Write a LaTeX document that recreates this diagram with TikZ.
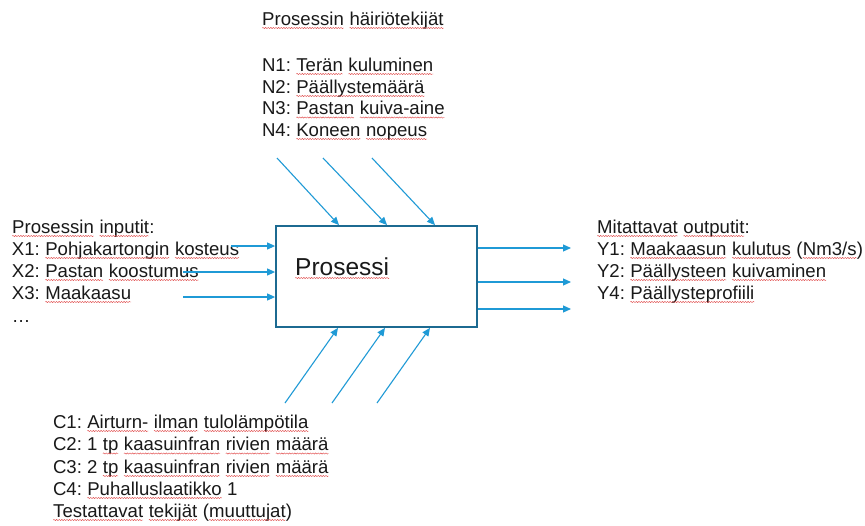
\documentclass[tikz,border=0pt]{standalone}
\usepackage{fontspec}
\setmainfont{Liberation Sans}
\frenchspacing
\usetikzlibrary{arrows.meta,decorations.pathmorphing}
\definecolor{arrblue}{RGB}{31,154,214}
\definecolor{boxblue}{RGB}{28,106,145}
\definecolor{sqred}{RGB}{226,80,80}
\tikzset{
  sqline/.style={sqred, line width=0.45pt, decorate, decoration={snake, amplitude=0.6pt, segment length=2.6pt}},
  txt/.style={anchor=base west, inner sep=0pt, outer sep=0pt, font=\fontsize{18.6}{22}\selectfont, text=black!90},
  arr/.style={arrblue, line width=1.1pt, -{Triangle[length=8pt,width=7pt]}},
  procbox/.style={draw=boxblue, line width=1.8pt, minimum width=201pt, minimum height=101pt, inner sep=0pt}
}
\newcommand\sq[1]{\tikz[baseline=(sqw.base)]{\node[inner sep=0pt,outer sep=0pt,anchor=base] (sqw) at (0,0) {#1};\draw[sqline] ([yshift=-3pt]sqw.base west) -- ([yshift=-3pt]sqw.base east);}}
\begin{document}
\begin{tikzpicture}[x=1pt,y=-1pt]
\useasboundingbox (0,0) rectangle (865,525);
\fill[white] (0,0) rectangle (865,525);
% process box
\node[procbox] (proc) at (376.5,276.5) {};
\node[txt, font=\fontsize{24.5}{28}\selectfont] (proctext) at (295,275) {\sq{Prosessi}};
% top text
\node[txt] (ntitle) at (262,25) {\sq{Prosessin} \sq{häiriötekijät}};
\node[txt] (n1) at (262,71) {N1: \sq{Terän} \sq{kuluminen}};
\node[txt] (n2) at (262,93) {N2: \sq{Päällystemäärä}};
\node[txt] (n3) at (262,114.5) {N3: \sq{Pastan} \sq{kuiva-aine}};
\node[txt] (n4) at (262,136) {N4: \sq{Koneen} \sq{nopeus}};
% left text
\node[txt] (xtitle) at (12,233) {\sq{Prosessin} \sq{inputit}:};
\node[txt] (x1) at (12,255) {X1: \sq{Pohjakartongin} \sq{kosteus}};
\node[txt] (x2) at (12,277) {X2: \sq{Pastan} \sq{koostumus}};
\node[txt] (x3) at (12,299) {X3: \sq{Maakaasu}};
\node[txt] (xdots) at (12,322) {…};
% right text
\node[txt] (ytitle) at (597,233) {\sq{Mitattavat} \sq{outputit}:};
\node[txt] (y1) at (597,255) {Y1: \sq{Maakaasun} \sq{kulutus} (\sq{Nm3/s})};
\node[txt] (y2) at (597,277) {Y2: \sq{Päällysteen} \sq{kuivaminen}};
\node[txt] (y4) at (597,299) {Y4: \sq{Päällysteprofiili}};
% bottom text
\node[txt] (c1) at (53,428) {C1: \sq{Airturn-} \sq{ilman} \sq{tulolämpötila}};
\node[txt] (c2) at (53,450.5) {C2: 1 \sq{tp} \sq{kaasuinfran} \sq{rivien} \sq{määrä}};
\node[txt] (c3) at (53,473) {C3: 2 \sq{tp} \sq{kaasuinfran} \sq{rivien} \sq{määrä}};
\node[txt] (c4) at (53,495) {C4: \sq{Puhalluslaatikko} 1};
\node[txt] (ctitle) at (53,517) {\sq{Testattavat} \sq{tekijät} (\sq{muuttujat})};
% input arrows
\coordinate (xs1) at (231,246);
\coordinate (xs2) at (183,272);
\coordinate (xs3) at (183,297);
\draw[arr] (xs1) -- (xs1 -| proc.west);
\draw[arr] (xs2) -- (xs2 -| proc.west);
\draw[arr] (xs3) -- (xs3 -| proc.west);
% output arrows
\coordinate (ye1) at (571,248);
\coordinate (ye2) at (571,282);
\coordinate (ye3) at (571,309);
\draw[arr] (ye1 -| proc.east) -- (ye1);
\draw[arr] (ye2 -| proc.east) -- (ye2);
\draw[arr] (ye3 -| proc.east) -- (ye3);
% top arrows
\coordinate (ns1) at (277,158);
\coordinate (ns2) at (323,158);
\coordinate (ns3) at (372,158);
\coordinate (ne1) at (339,0);
\coordinate (ne2) at (387,0);
\coordinate (ne3) at (435,0);
\draw[arr] (ns1) -- (ne1 |- proc.north);
\draw[arr] (ns2) -- (ne2 |- proc.north);
\draw[arr] (ns3) -- (ne3 |- proc.north);
% bottom arrows
\coordinate (cs1) at (285,403);
\coordinate (cs2) at (332,403);
\coordinate (cs3) at (377,403);
\coordinate (ce1) at (338,0);
\coordinate (ce2) at (385,0);
\coordinate (ce3) at (430,0);
\draw[arr] (cs1) -- (ce1 |- proc.south);
\draw[arr] (cs2) -- (ce2 |- proc.south);
\draw[arr] (cs3) -- (ce3 |- proc.south);
\end{tikzpicture}
\end{document}
